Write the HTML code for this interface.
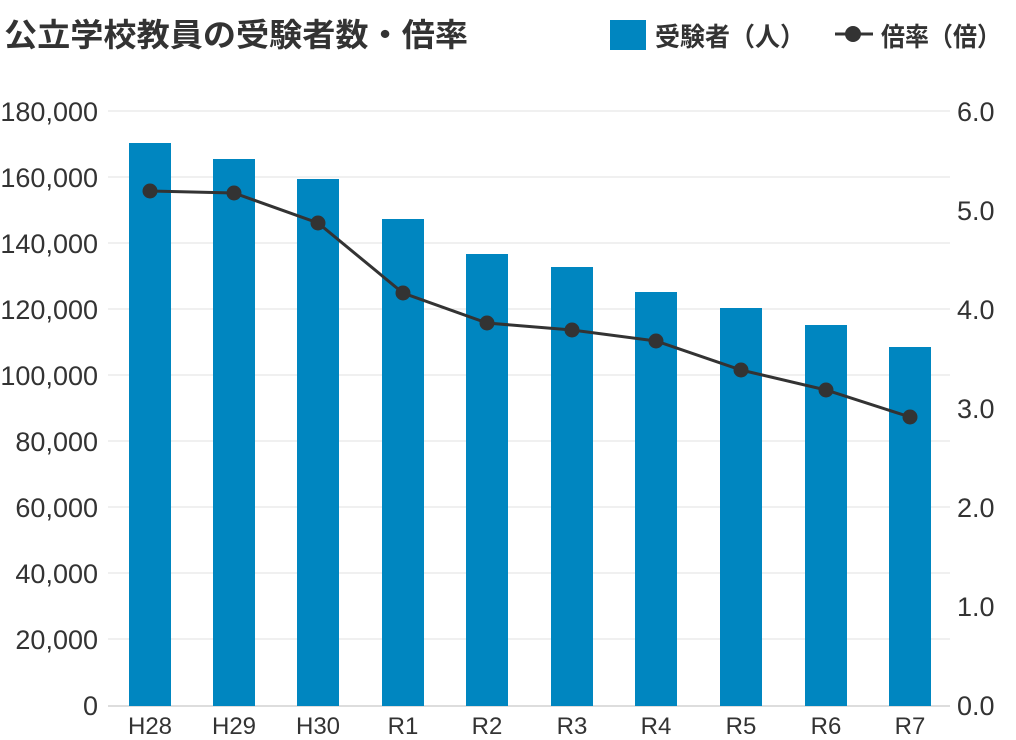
<!DOCTYPE html>
<html><head><meta charset="utf-8"><style>
html,body{margin:0;padding:0;background:#fff;}
svg{display:block;}
text{font-family:"Liberation Sans","Noto Sans CJK JP",sans-serif;fill:#333;}
.j{font-family:"Liberation Sans","Noto Sans CJK JP",sans-serif;font-weight:bold;}
</style></head><body>
<svg width="1016" height="740" viewBox="0 0 1016 740" xmlns="http://www.w3.org/2000/svg">
<text class="j" x="4" y="46" font-size="32" textLength="464" lengthAdjust="spacingAndGlyphs">公立学校教員の受験者数・倍率</text>
<rect x="610" y="20" width="36" height="30" fill="#0086c0"/>
<text class="j" x="655" y="46" font-size="26" textLength="150" lengthAdjust="spacingAndGlyphs">受験者（人）</text>
<line x1="835" y1="34" x2="873" y2="34" stroke="#333" stroke-width="3"/>
<circle cx="853" cy="34" r="8" fill="#333"/>
<text class="j" x="881" y="46" font-size="26" textLength="120" lengthAdjust="spacingAndGlyphs">倍率（倍）</text>
<g stroke="#e0e0e0" stroke-width="1">
<line x1="108" y1="111" x2="950" y2="111"/><line x1="108" y1="177" x2="950" y2="177"/>
<line x1="108" y1="243" x2="950" y2="243"/><line x1="108" y1="309" x2="950" y2="309"/>
<line x1="108" y1="375" x2="950" y2="375"/><line x1="108" y1="441" x2="950" y2="441"/>
<line x1="108" y1="507" x2="950" y2="507"/><line x1="108" y1="573" x2="950" y2="573"/>
<line x1="108" y1="639" x2="950" y2="639"/>
</g>
<line x1="108" y1="706" x2="950" y2="706" stroke="#bbb"/>
<g fill="#0086c0">
<rect x="129" y="143" width="42" height="563"/><rect x="213" y="159" width="42" height="547"/>
<rect x="297" y="179" width="42" height="527"/><rect x="382" y="219" width="42" height="487"/>
<rect x="466" y="254" width="42" height="452"/><rect x="551" y="267" width="42" height="439"/>
<rect x="635" y="292" width="42" height="414"/><rect x="720" y="308" width="42" height="398"/>
<rect x="805" y="325" width="42" height="381"/><rect x="889" y="347" width="42" height="359"/>
</g>
<polyline points="150,191 234,193 318,223 403,293 487,323 572,330 656,341 741,370 826,390 910,417" fill="none" stroke="#333" stroke-width="3"/>
<g fill="#333">
<circle cx="150" cy="191" r="7.5"/><circle cx="234" cy="193" r="7.5"/><circle cx="318" cy="223" r="7.5"/>
<circle cx="403" cy="293" r="7.5"/><circle cx="487" cy="323" r="7.5"/><circle cx="572" cy="330" r="7.5"/>
<circle cx="656" cy="341" r="7.5"/><circle cx="741" cy="370" r="7.5"/><circle cx="826" cy="390" r="7.5"/>
<circle cx="910" cy="417" r="7.5"/>
</g>
<g font-size="27" text-anchor="end">
<text x="98" y="121">180,000</text><text x="98" y="187">160,000</text><text x="98" y="253">140,000</text>
<text x="98" y="319">120,000</text><text x="98" y="385">100,000</text><text x="98" y="451">80,000</text>
<text x="98" y="517">60,000</text><text x="98" y="583">40,000</text><text x="98" y="649">20,000</text>
<text x="98" y="715">0</text>
</g>
<g font-size="27">
<text x="957" y="121">6.0</text><text x="957" y="220">5.0</text><text x="957" y="319">4.0</text>
<text x="957" y="418">3.0</text><text x="957" y="517">2.0</text><text x="957" y="616">1.0</text>
<text x="957" y="715">0.0</text>
</g>
<g font-size="24" text-anchor="middle" fill="#555">
<text x="150" y="734">H28</text><text x="234" y="734">H29</text><text x="318" y="734">H30</text>
<text x="403" y="734">R1</text><text x="487" y="734">R2</text><text x="572" y="734">R3</text>
<text x="656" y="734">R4</text><text x="741" y="734">R5</text><text x="826" y="734">R6</text>
<text x="910" y="734">R7</text>
</g>
</svg>
</body></html>
